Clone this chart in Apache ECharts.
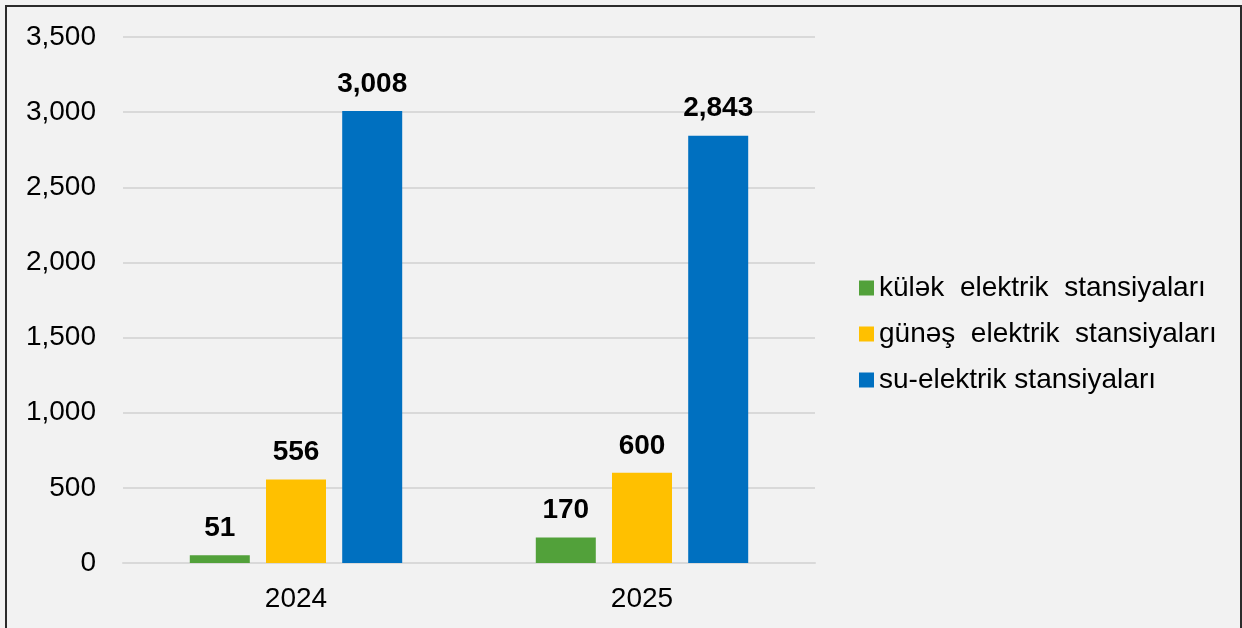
<!DOCTYPE html>
<html><head><meta charset="utf-8">
<script src="https://cdn.jsdelivr.net/npm/echarts@6/dist/echarts.min.js"></script>
<style>html,body{margin:0;padding:0;background:#f2f2f2;}#c{width:1242px;height:628px;}</style>
</head><body><div id="c"></div>
<script>
const categories = ['2024', '2025'];
const seriesNames = ['külək  elektrik  stansiyaları', 'günəş  elektrik  stansiyaları', 'su-elektrik stansiyaları'];
const windValues = [51, 170];
const solarValues = [556, 600];
const hydroValues = [3008, 2843];
const colors = ['#52A13A', '#FFC000', '#0070C0'];

const chart = echarts.init(document.getElementById('c'), null, {renderer: 'canvas'});
const font = 'Arial, "Liberation Sans", sans-serif';
function mk(name, data, color) {
  return {
    name, type: 'bar', data, barWidth: 60, barGap: '27%',
    itemStyle: {color},
    label: {show: true, position: 'top', distance: 13, fontFamily: font, fontSize: 28, fontWeight: 'bold', color: '#000',
      formatter: p => p.value.toLocaleString('en-US')}
  };
}
chart.setOption({
  backgroundColor: '#f2f2f2',
  animation: false,
  graphic: [{type: 'rect', shape: {x: 6, y: 6, width: 1235, height: 700}, style: {fill: 'none', stroke: '#2b2b2b', lineWidth: 2}, silent: true, z: 100}],
  grid: {left: 123, right: 427, top: 37, bottom: 65},
  legend: {
    orient: 'vertical', left: 854, top: 269, itemWidth: 15, itemHeight: 15, itemGap: 18,
    icon: 'rect',
    textStyle: {fontFamily: font, fontSize: 28, color: '#000'},
    data: seriesNames
  },
  xAxis: {
    type: 'category', data: categories,
    axisLine: {show: true, lineStyle: {color: '#d9d9d9', width: 2}},
    axisTick: {show: false},
    axisLabel: {fontFamily: font, fontSize: 28, color: '#000', margin: 22}
  },
  yAxis: {
    type: 'value', min: 0, max: 3500, interval: 500,
    axisLine: {show: false}, axisTick: {show: false},
    splitLine: {lineStyle: {color: '#d9d9d9', width: 2}},
    axisLabel: {fontFamily: font, fontSize: 28, color: '#000', margin: 27,
      formatter: v => v.toLocaleString('en-US')}
  },
  series: [
    mk(seriesNames[0], windValues, colors[0]),
    mk(seriesNames[1], solarValues, colors[1]),
    mk(seriesNames[2], hydroValues, colors[2])
  ]
});
</script></body></html>
